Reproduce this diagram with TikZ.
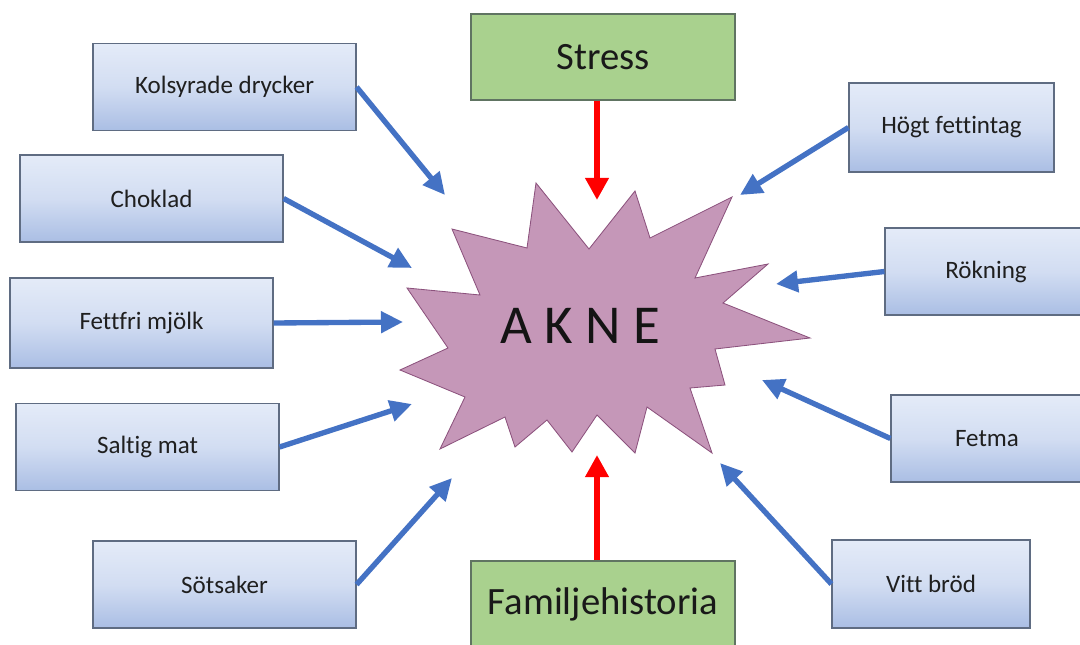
\documentclass[tikz,border=0pt]{standalone}
\usepackage{fontspec}
\setmainfont{Carlito}[Ligatures=NoCommon]
\usepackage{xcolor}
\usepackage{tikz}
\usetikzlibrary{arrows.meta}
\definecolor{boxtop}{RGB}{228,235,248}
\definecolor{boxmid}{RGB}{210,221,242}
\definecolor{boxbot}{RGB}{170,190,228}
\definecolor{boxline}{RGB}{95,108,130}
\definecolor{greenfill}{RGB}{169,209,142}
\definecolor{greenline}{RGB}{96,116,98}
\definecolor{burstfill}{RGB}{197,151,184}
\definecolor{burstline}{RGB}{140,82,125}
\definecolor{arrowblue}{RGB}{68,114,196}
\tikzset{factor/.style={rectangle, draw=boxline, line width=0.8pt, top color=boxtop, bottom color=boxbot, middle color=boxmid, minimum height=2.175cm, inner sep=0pt, font=\fontsize{17.8}{21}\selectfont, text=black!88}, cause/.style={rectangle, draw=greenline, line width=0.8pt, fill=greenfill, minimum width=6.6cm, minimum height=2.15cm, inner sep=0pt, font=\fontsize{27.5}{32}\selectfont, text=black!90}, burst/.style={draw=burstline, line width=0.6pt, fill=burstfill}, arrow/.style={-{Triangle[length=5.5mm,width=5.2mm]}, line width=3.8pt, draw=arrowblue}, redarrow/.style={-{Triangle[length=5.5mm,width=5.6mm]}, line width=4.2pt, draw=red}}

\begin{document}
\begin{tikzpicture}[x=0.025cm, y=-0.025cm]
\useasboundingbox (0,0) rectangle (1080,645);
% centre
\draw[burst] (536,183) -- (589,249) -- (635,191) -- (650,238) -- (732,197) -- (695,278) -- (768,264) -- (723,303) -- (810,338) -- (715,349) -- (725,385) -- (690,388) -- (712,453) -- (647,407) -- (635,453) -- (597,415) -- (572,452) -- (547,420) -- (515,447) -- (505,417) -- (440,449) -- (465,397) -- (400,370) -- (448,348) -- (407,288) -- (480,295) -- (452,229) -- (527,248) -- cycle;
\node[font=\fontsize{39}{45}\selectfont, text=black!92] (akne) at (580,326) {A K N E};
% factors
\node[factor, minimum width=6.575cm] (kolsyrade) at (224.5,87) {Kolsyrade drycker};
\node[factor, minimum width=6.575cm] (choklad) at (151.5,198.5) {Choklad};
\node[factor, minimum width=6.575cm, minimum height=2.25cm] (fettfri) at (141.5,323) {Fettfri mjölk};
\node[factor, minimum width=6.575cm] (saltig) at (147.5,447) {Saltig mat};
\node[factor, minimum width=6.575cm] (sotsaker) at (224.5,584.5) {Sötsaker};
\node[cause] (stress) at (603,57) {Stress};
\node[cause] (familj) at (603,604) {Familjehistoria};
\node[factor, minimum width=5.125cm, minimum height=2.225cm] (hogt) at (951.5,127.5) {Högt fettintag};
\node[factor, minimum width=5.05cm] (rokning) at (986,271.5) {Rökning};
\node[factor, minimum width=4.8cm] (fetma) at (987,438.5) {Fetma};
\node[factor, minimum width=4.95cm, minimum height=2.2cm] (vitt) at (931,584) {Vitt bröd};
% arrow tips
\coordinate (tkolsyrade) at (445,195);
\coordinate (tchoklad) at (412,268);
\coordinate (tfettfri) at (403,322);
\coordinate (tsaltig) at (412,404);
\coordinate (tsotsaker) at (452,478);
\coordinate (tstress) at (597,200);
\coordinate (tfamilj) at (597,455);
\coordinate (thogt) at (740,195);
\coordinate (trokning) at (776,284);
\coordinate (tfetma) at (762,380);
\coordinate (tvitt) at (720,463);
\draw[arrow] (kolsyrade.east)--(tkolsyrade);
\draw[arrow] (choklad.east)--(tchoklad);
\draw[arrow] (fettfri.east)--(tfettfri);
\draw[arrow] (saltig.east)--(tsaltig);
\draw[arrow] (sotsaker.east)--(tsotsaker);
\draw[arrow] (hogt.west)--(thogt);
\draw[arrow] (rokning.west)--(trokning);
\draw[arrow] (fetma.west)--(tfetma);
\draw[arrow] (vitt.west)--(tvitt);
\draw[redarrow] (stress.south -| tstress)--(tstress);
\draw[redarrow] (familj.north -| tfamilj)--(tfamilj);
\end{tikzpicture}
\end{document}
